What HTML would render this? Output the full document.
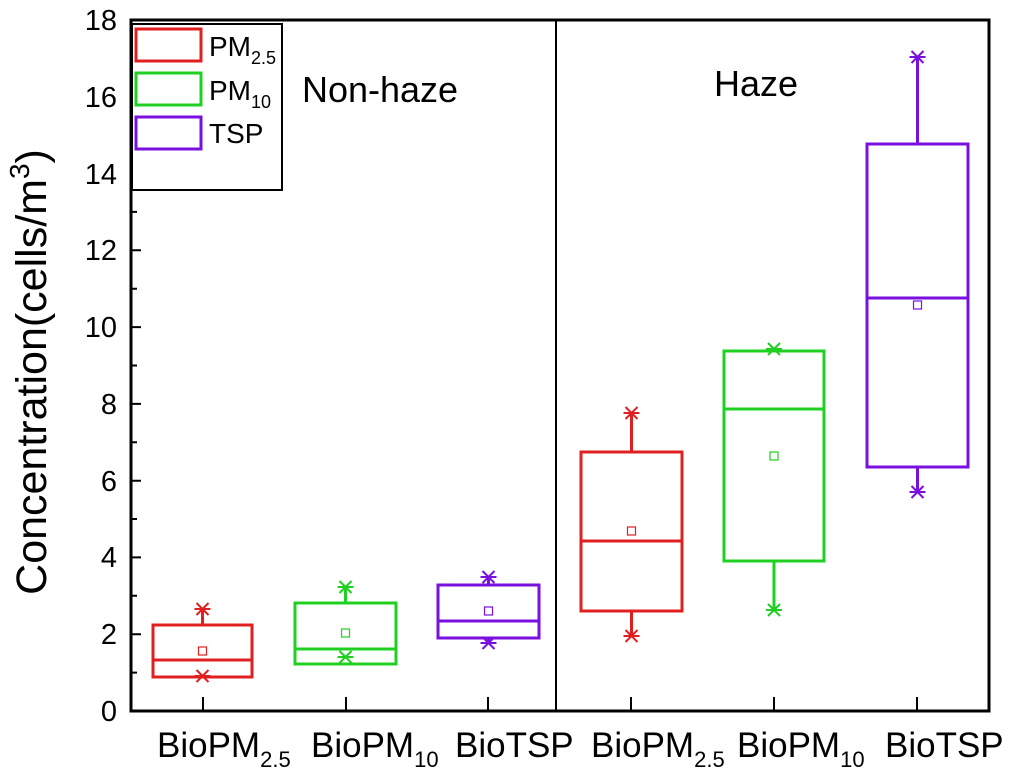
<!DOCTYPE html>
<html><head><meta charset="utf-8"><style>
html,body{margin:0;padding:0;background:#fff;}
svg{display:block;font-family:"Liberation Sans",Arial,sans-serif;}
</style></head><body>
<svg width="1010" height="773" viewBox="0 0 1010 773" xmlns="http://www.w3.org/2000/svg">
<path stroke="#000" stroke-width="2" fill="none" d="
M131 711H141M131 672.6H137M131 634.2H141M131 595.8H137M131 557.4H141M131 519H137M131 480.7H141M131 442.3H137M131 403.9H141M131 365.5H137M131 327.1H141M131 288.7H137M131 250.3H141M131 211.9H137M131 173.5H141M131 135.2H137M131 96.8H141M131 58.4H137
M203 711V697M346 711V697M488 711V697M631 711V697M774 711V697M917 711V697"/>
<rect x="131" y="20" width="858" height="691" fill="none" stroke="#000" stroke-width="3"/>
<line x1="556" y1="20" x2="556" y2="711" stroke="#000" stroke-width="2"/>
<g font-size="29" text-anchor="end" fill="#000">
<text x="117" y="721">0</text><text x="117" y="644">2</text><text x="117" y="567">4</text>
<text x="117" y="491">6</text><text x="117" y="414">8</text><text x="117" y="337">10</text>
<text x="117" y="260">12</text><text x="117" y="184">14</text><text x="117" y="107">16</text>
<text x="117" y="30">18</text>
</g>
<text transform="translate(46,372) rotate(-90)" font-size="43" text-anchor="middle">Concentration(cells/m<tspan font-size="28" dy="-17">3</tspan><tspan dy="17">)</tspan></text>
<g font-size="36" text-anchor="middle">
<text x="380" y="102">Non-haze</text>
<text x="756" y="96">Haze</text>
</g>
<g font-size="35">
<text x="157" y="757">BioPM<tspan font-size="22" dy="10">2.5</tspan></text>
<text x="311" y="757">BioPM<tspan font-size="22" dy="10">10</tspan></text>
<text x="455" y="757">BioTSP</text>
<text x="591" y="757">BioPM<tspan font-size="22" dy="10">2.5</tspan></text>
<text x="737" y="757">BioPM<tspan font-size="22" dy="10">10</tspan></text>
<text x="885" y="757">BioTSP</text>
</g>
<rect x="132" y="24" width="150" height="166" fill="#fff" stroke="#000" stroke-width="2"/>
<rect x="136" y="29" width="65" height="32" fill="none" stroke="#e02020" stroke-width="3"/>
<rect x="136" y="73" width="65" height="32" fill="none" stroke="#20d020" stroke-width="3"/>
<rect x="136" y="117" width="65" height="32" fill="none" stroke="#7a10e0" stroke-width="3"/>
<g font-size="28">
<text x="209" y="56">PM<tspan font-size="18" dy="8">2.5</tspan></text>
<text x="209" y="100">PM<tspan font-size="18" dy="8">10</tspan></text>
<text x="209" y="143">TSP</text>
</g>
<g fill="none" stroke-width="3">
<g stroke="#e02020">
<rect x="153" y="625" width="99" height="52"/><path d="M153 660H252M202.5 609V625"/>
<path stroke-width="2" d="M194.5 609H210.5M196.5 603L208.5 615M208.5 603L196.5 615M194.5 676H210.5M196.5 670L208.5 682M208.5 670L196.5 682"/>
<rect stroke-width="1.2" x="198.5" y="647" width="8" height="8"/>
</g>
<g stroke="#20d020">
<rect x="295" y="603" width="101" height="61"/><path d="M295 649H396M345.5 587V603"/>
<path stroke-width="2" d="M337.5 587H353.5M339.5 581L351.5 593M351.5 581L339.5 593M337.5 657H353.5M339.5 651L351.5 663M351.5 651L339.5 663"/>
<rect stroke-width="1.2" x="341.5" y="629" width="8" height="8"/>
</g>
<g stroke="#7a10e0">
<rect x="438" y="585" width="101" height="53"/><path d="M438 621H539M488.5 577V585M488.5 638V643"/>
<path stroke-width="2" d="M480.5 577H496.5M482.5 571L494.5 583M494.5 571L482.5 583M480.5 643H496.5M482.5 637L494.5 649M494.5 637L482.5 649"/>
<rect stroke-width="1.2" x="484.5" y="607" width="8" height="8"/>
</g>
<g stroke="#e02020">
<rect x="581" y="452" width="101" height="159"/><path d="M581 541H682M631.5 413V452M631.5 611V636"/>
<path stroke-width="2" d="M623.5 413H639.5M625.5 407L637.5 419M637.5 407L625.5 419M623.5 636H639.5M625.5 630L637.5 642M637.5 630L625.5 642"/>
<rect stroke-width="1.2" x="627.5" y="527" width="8" height="8"/>
</g>
<g stroke="#20d020">
<rect x="724" y="351" width="100" height="210"/><path d="M724 409H824M774 561V610"/>
<path stroke-width="2" d="M766 349H782M768 343L780 355M780 343L768 355M766 610H782M768 604L780 616M780 604L768 616"/>
<rect stroke-width="1.2" x="770" y="452" width="8" height="8"/>
</g>
<g stroke="#7a10e0">
<rect x="867" y="144" width="101" height="323"/><path d="M867 298H968M917.5 57V144M917.5 467V492"/>
<path stroke-width="2" d="M909.5 57H925.5M911.5 51L923.5 63M923.5 51L911.5 63M909.5 492H925.5M911.5 486L923.5 498M923.5 486L911.5 498"/>
<rect stroke-width="1.2" x="913.5" y="301" width="8" height="8"/>
</g>
</g>
</svg>
</body></html>
